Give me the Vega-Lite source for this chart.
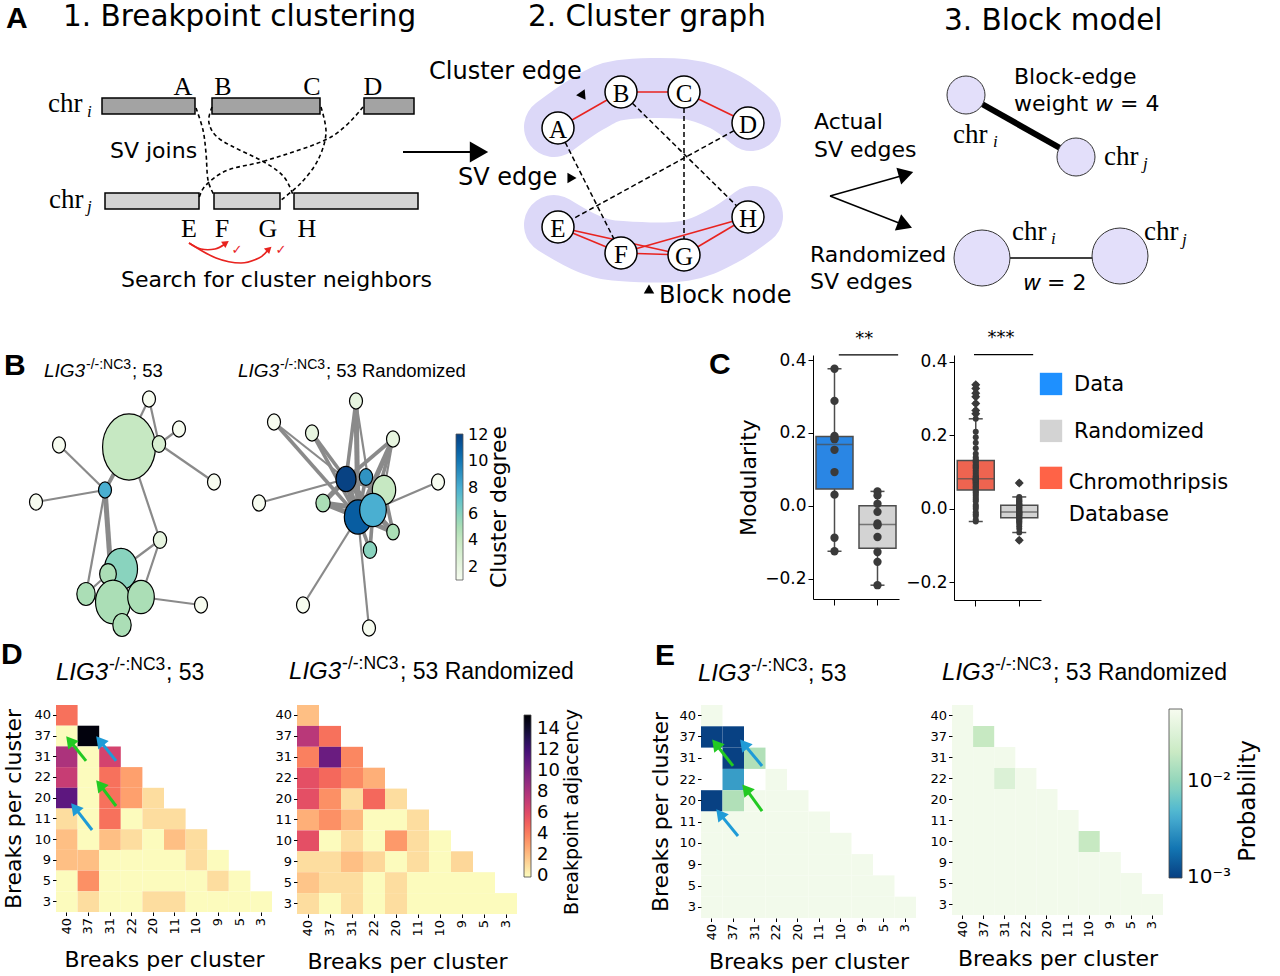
{
"$schema":"https://vega.github.io/schema/vega-lite/v6.json",
"background":"white",
"padding":0,
"spacing":0,
"config":{"font":"DejaVu Sans","view":{"stroke":null},"axis":{"grid":false,"labelFont":"DejaVu Sans","titleFont":"DejaVu Sans","titleFontWeight":"normal","labelColor":"#000","titleColor":"#000","tickColor":"#000","domainColor":"#000"},"legend":{"labelFont":"DejaVu Sans","labelColor":"#000"}},
"resolve":{"scale":{"color":"independent","size":"independent","strokeWidth":"independent","fill":"independent","stroke":"independent"},"legend":{"color":"independent","size":"independent","strokeWidth":"independent","fill":"independent","stroke":"independent"}},
"datasets":{
"pa_blob":[{"id":"t","o":0,"x":553,"y":127},{"id":"t","o":1,"x":588,"y":103},{"id":"t","o":2,"x":620,"y":90},{"id":"t","o":3,"x":683,"y":89},{"id":"t","o":4,"x":722,"y":101},{"id":"t","o":5,"x":750,"y":121},{"id":"b","o":0,"x":553,"y":225},{"id":"b","o":1,"x":588,"y":244},{"id":"b","o":2,"x":620,"y":251},{"id":"b","o":3,"x":683,"y":251},{"id":"b","o":4,"x":722,"y":236},{"id":"b","o":5,"x":752,"y":216}],
"pa_bars":[{"k":"dark","x1":101,"x2":194,"y1":98,"y2":114},{"k":"dark","x1":211,"x2":319,"y1":98,"y2":114},{"k":"dark","x1":363,"x2":413,"y1":98,"y2":114},{"k":"light","x1":104,"x2":198,"y1":193,"y2":209},{"k":"light","x1":213,"x2":279,"y1":193,"y2":209},{"k":"light","x1":293,"x2":417,"y1":193,"y2":209}],
"pa_curves":[{"id":"AF","o":0,"x":195,"y":108},{"id":"AF","o":1,"x":202,"y":130},{"id":"AF","o":2,"x":205,"y":153},{"id":"AF","o":3,"x":207,"y":180},{"id":"AF","o":4,"x":213,"y":195},{"id":"BH","o":0,"x":211,"y":107},{"id":"BH","o":1,"x":208,"y":123},{"id":"BH","o":2,"x":220,"y":140},{"id":"BH","o":3,"x":263,"y":162},{"id":"BH","o":4,"x":283,"y":177},{"id":"BH","o":5,"x":292,"y":195},{"id":"CG","o":0,"x":320,"y":107},{"id":"CG","o":1,"x":325,"y":133},{"id":"CG","o":2,"x":317,"y":160},{"id":"CG","o":3,"x":300,"y":183},{"id":"CG","o":4,"x":280,"y":200},{"id":"DE","o":0,"x":362,"y":107},{"id":"DE","o":1,"x":330,"y":137},{"id":"DE","o":2,"x":267,"y":160},{"id":"DE","o":3,"x":227,"y":170},{"id":"DE","o":4,"x":205,"y":185},{"id":"DE","o":5,"x":198,"y":198}],
"pa_red":[{"id":"EF","o":0,"x":188,"y":243},{"id":"EF","o":1,"x":200,"y":249},{"id":"EF","o":2,"x":214,"y":249},{"id":"EF","o":3,"x":224,"y":244},{"id":"EG","o":0,"x":188,"y":243},{"id":"EG","o":1,"x":215,"y":258},{"id":"EG","o":2,"x":240,"y":263},{"id":"EG","o":3,"x":258,"y":258},{"id":"EG","o":4,"x":267,"y":250}],
"pa_nodes":[{"id":"A","x":557,"y":128},{"id":"B","x":620,"y":92},{"id":"C","x":683,"y":92},{"id":"D","x":747,"y":123},{"id":"E","x":557,"y":227},{"id":"F","x":620,"y":253},{"id":"G","x":683,"y":255},{"id":"H","x":747,"y":217}],
"pa_edges":[{"s":"A","t":"B","k":"r"},{"s":"B","t":"C","k":"r"},{"s":"C","t":"D","k":"r"},{"s":"E","t":"F","k":"r"},{"s":"F","t":"G","k":"r"},{"s":"G","t":"H","k":"r"},{"s":"E","t":"G","k":"r"},{"s":"F","t":"H","k":"r"},{"s":"A","t":"F","k":"d"},{"s":"B","t":"H","k":"d"},{"s":"C","t":"G","k":"d"},{"s":"D","t":"E","k":"d"}],
"pa_lines":[{"k":"big","x":402,"y":152,"x2":470,"y2":152},{"k":"p3","x":829,"y":196,"x2":900,"y2":176},{"k":"p3","x":829,"y":196,"x2":898,"y2":223}],
"pa_heads":[{"k":"big","x":478,"y":152,"ang":90},{"k":"sm","x":582,"y":96,"ang":145},{"k":"sm","x":571,"y":178,"ang":90},{"k":"sm","x":648,"y":289,"ang":0},{"k":"p3","x":905,"y":174,"ang":74},{"k":"p3","x":904,"y":225,"ang":111},{"k":"red","x":225,"y":243,"ang":56},{"k":"red","x":268,"y":249,"ang":47}],
"pa_bme":[{"k":"thick","x":965,"y":95,"x2":1075,"y2":157},{"k":"thin","x":981,"y":258,"x2":1119,"y2":258}],
"pa_bmn":[{"k":"s","x":965,"y":95},{"k":"s","x":1075,"y":157},{"k":"b","x":981,"y":258},{"k":"b","x":1119,"y":256}],
"pa_text":[{"k":"letter","x":5,"y":19,"t":"A"},{"k":"big","x":62,"y":17,"t":"1. Breakpoint clustering"},{"k":"big","x":527,"y":17,"t":"2. Cluster graph"},{"k":"big","x":943,"y":21,"t":"3. Block model"},{"k":"l22","x":109,"y":151,"t":"SV joins"},{"k":"l22","x":120,"y":280,"t":"Search  for cluster neighbors"},{"k":"l22","x":813,"y":122,"t":"Actual"},{"k":"l22","x":813,"y":150,"t":"SV edges"},{"k":"l22","x":809,"y":255,"t":"Randomized"},{"k":"l22","x":809,"y":282,"t":"SV edges"},{"k":"l22","x":1013,"y":77,"t":"Block-edge"},{"k":"l22","x":1013,"y":104,"t":"weight"},{"k":"l22","x":1119,"y":104,"t":"= 4"},{"k":"l22","x":1046,"y":283,"t":"= 2"},{"k":"ital","x":1094,"y":104,"t":"w"},{"k":"ital","x":1022,"y":283,"t":"w"},{"k":"l24","x":428,"y":72,"t":"Cluster edge"},{"k":"l24","x":457,"y":178,"t":"SV edge"},{"k":"l24","x":658,"y":296,"t":"Block node"},{"k":"serc","x":182,"y":95,"t":"A"},{"k":"serc","x":222,"y":95,"t":"B"},{"k":"serc","x":311,"y":95,"t":"C"},{"k":"serc","x":372,"y":95,"t":"D"},{"k":"serc","x":188,"y":237,"t":"E"},{"k":"serc","x":221,"y":237,"t":"F"},{"k":"serc","x":267,"y":237,"t":"G"},{"k":"serc","x":306,"y":237,"t":"H"},{"k":"nodel","x":557,"y":130,"t":"A"},{"k":"nodel","x":620,"y":94,"t":"B"},{"k":"nodel","x":683,"y":94,"t":"C"},{"k":"nodel","x":747,"y":125,"t":"D"},{"k":"nodel","x":557,"y":229,"t":"E"},{"k":"nodel","x":620,"y":255,"t":"F"},{"k":"nodel","x":683,"y":257,"t":"G"},{"k":"nodel","x":747,"y":219,"t":"H"},{"k":"chr","x":47,"y":112,"t":"chr"},{"k":"chr","x":48,"y":208,"t":"chr"},{"k":"chr","x":952,"y":143,"t":"chr"},{"k":"chr","x":1103,"y":165,"t":"chr"},{"k":"chr","x":1011,"y":240,"t":"chr"},{"k":"chr","x":1143,"y":240,"t":"chr"},{"k":"sub","x":86,"y":117,"t":"i"},{"k":"sub","x":86,"y":212,"t":"j"},{"k":"sub","x":992,"y":147,"t":"i"},{"k":"sub","x":1142,"y":169,"t":"j"},{"k":"sub","x":1050,"y":244,"t":"i"},{"k":"sub","x":1181,"y":245,"t":"j"},{"k":"check","x":236,"y":250,"t":"✓"},{"k":"check","x":280,"y":250,"t":"✓"}],
"nodesB":[{"id":"L1","x":128,"y":445,"n":43,"deg":4},{"id":"L4","x":158,"y":442,"n":2.7,"deg":3},{"id":"L2","x":148,"y":397,"n":2.6,"deg":1},{"id":"L3","x":178,"y":427,"n":2.6,"deg":1},{"id":"L5","x":58,"y":443,"n":2.6,"deg":1},{"id":"L6","x":213,"y":480,"n":2.6,"deg":1},{"id":"L7","x":104,"y":488,"n":2.6,"deg":8},{"id":"L8","x":35,"y":500,"n":2.6,"deg":1},{"id":"L9","x":159,"y":538,"n":2.7,"deg":2},{"id":"L10","x":120,"y":567,"n":16.8,"deg":6},{"id":"L11","x":107,"y":572,"n":4.3,"deg":5},{"id":"L13","x":112,"y":600,"n":18.8,"deg":5},{"id":"L12","x":85,"y":592,"n":5.2,"deg":5},{"id":"L14","x":140,"y":595,"n":10.9,"deg":5},{"id":"L15","x":121,"y":623,"n":5.2,"deg":5},{"id":"L16","x":200,"y":603,"n":2.6,"deg":1},{"id":"R1","x":355,"y":399,"n":2.6,"deg":2},{"id":"R2","x":273,"y":420,"n":2.6,"deg":1},{"id":"R3","x":311,"y":431,"n":2.6,"deg":2},{"id":"R4","x":392,"y":437,"n":2.6,"deg":2},{"id":"R5","x":437,"y":480,"n":2.6,"deg":1},{"id":"R6","x":258,"y":501,"n":2.6,"deg":1},{"id":"R15","x":302,"y":603,"n":2.6,"deg":1},{"id":"R16","x":368,"y":626,"n":2.6,"deg":1},{"id":"R13","x":392,"y":530,"n":2.4,"deg":5},{"id":"R14","x":369,"y":548,"n":2.7,"deg":6},{"id":"R10","x":322,"y":501,"n":3.1,"deg":5},{"id":"R7","x":345,"y":477,"n":6.2,"deg":12},{"id":"R8","x":365,"y":475,"n":2.7,"deg":9},{"id":"R9","x":383,"y":488,"n":8.4,"deg":4},{"id":"R12","x":357,"y":515,"n":11.5,"deg":11},{"id":"R11","x":372,"y":508,"n":10.9,"deg":8}],
"edgesB":[{"s":"L7","t":"L5","w":1},{"s":"L7","t":"L8","w":1},{"s":"L7","t":"L1","w":2},{"s":"L2","t":"L7","w":1},{"s":"L2","t":"L4","w":1},{"s":"L3","t":"L4","w":1},{"s":"L4","t":"L6","w":1},{"s":"L1","t":"L4","w":1},{"s":"L1","t":"L9","w":1},{"s":"L7","t":"L13","w":3},{"s":"L7","t":"L12","w":1},{"s":"L9","t":"L10","w":1},{"s":"L9","t":"L14","w":1},{"s":"L14","t":"L16","w":1},{"s":"L13","t":"L12","w":2},{"s":"L13","t":"L11","w":1},{"s":"L13","t":"L14","w":2},{"s":"L13","t":"L15","w":1},{"s":"L10","t":"L13","w":2},{"s":"L10","t":"L14","w":1},{"s":"L12","t":"L11","w":1},{"s":"R1","t":"R7","w":2},{"s":"R1","t":"R12","w":3},{"s":"R1","t":"R11","w":1},{"s":"R2","t":"R7","w":1},{"s":"R2","t":"R12","w":2},{"s":"R3","t":"R7","w":2},{"s":"R3","t":"R12","w":2},{"s":"R4","t":"R7","w":2},{"s":"R4","t":"R12","w":3},{"s":"R4","t":"R11","w":2},{"s":"R4","t":"R9","w":1},{"s":"R5","t":"R11","w":1},{"s":"R6","t":"R7","w":1},{"s":"R10","t":"R7","w":3},{"s":"R10","t":"R11","w":3},{"s":"R10","t":"R12","w":3},{"s":"R7","t":"R12","w":4},{"s":"R7","t":"R11","w":4},{"s":"R7","t":"R9","w":3},{"s":"R8","t":"R12","w":2},{"s":"R8","t":"R7","w":2},{"s":"R12","t":"R13","w":3},{"s":"R11","t":"R13","w":3},{"s":"R12","t":"R14","w":2},{"s":"R11","t":"R14","w":2},{"s":"R12","t":"R15","w":1},{"s":"R12","t":"R16","w":1},{"s":"R9","t":"R12","w":3},{"s":"R9","t":"R13","w":2}],
"textB":[{"k":"letter","x":3,"y":364,"t":"B"},{"k":"lig","x":43,"y":375,"t":"LIG3"},{"k":"sup","x":85,"y":367,"t":"-/-:NC3"},{"k":"main","x":131,"y":375,"t":"; 53"},{"k":"lig","x":237,"y":375,"t":"LIG3"},{"k":"sup","x":279,"y":367,"t":"-/-:NC3"},{"k":"main","x":325,"y":375,"t":"; 53 Randomized"},{"k":"cbar","x":498,"y":505,"t":"Cluster degree"}],
"c1":[{"g":"Data","m":0.376},{"g":"Data","m":0.288},{"g":"Data","m":0.186},{"g":"Data","m":0.192},{"g":"Data","m":0.183},{"g":"Data","m":0.154},{"g":"Data","m":0.093},{"g":"Data","m":0.031},{"g":"Data","m":-0.087},{"g":"Data","m":-0.124},{"g":"Randomized","m":0.040},{"g":"Randomized","m":0.029},{"g":"Randomized","m":0.006},{"g":"Randomized","m":-0.016},{"g":"Randomized","m":-0.048},{"g":"Randomized","m":-0.053},{"g":"Randomized","m":-0.085},{"g":"Randomized","m":-0.126},{"g":"Randomized","m":-0.153},{"g":"Randomized","m":-0.217}],
"c2":[{"g":"Chromothripsis Database","m":-0.035},{"g":"Chromothripsis Database","m":-0.03},{"g":"Chromothripsis Database","m":-0.02},{"g":"Chromothripsis Database","m":-0.015},{"g":"Chromothripsis Database","m":-0.01},{"g":"Chromothripsis Database","m":0.0},{"g":"Chromothripsis Database","m":0.005},{"g":"Chromothripsis Database","m":0.01},{"g":"Chromothripsis Database","m":0.02},{"g":"Chromothripsis Database","m":0.025},{"g":"Chromothripsis Database","m":0.03},{"g":"Chromothripsis Database","m":0.035},{"g":"Chromothripsis Database","m":0.04},{"g":"Chromothripsis Database","m":0.045},{"g":"Chromothripsis Database","m":0.048},{"g":"Chromothripsis Database","m":0.052},{"g":"Chromothripsis Database","m":0.055},{"g":"Chromothripsis Database","m":0.058},{"g":"Chromothripsis Database","m":0.06},{"g":"Chromothripsis Database","m":0.062},{"g":"Chromothripsis Database","m":0.065},{"g":"Chromothripsis Database","m":0.068},{"g":"Chromothripsis Database","m":0.07},{"g":"Chromothripsis Database","m":0.072},{"g":"Chromothripsis Database","m":0.075},{"g":"Chromothripsis Database","m":0.077},{"g":"Chromothripsis Database","m":0.078},{"g":"Chromothripsis Database","m":0.079},{"g":"Chromothripsis Database","m":0.08},{"g":"Chromothripsis Database","m":0.081},{"g":"Chromothripsis Database","m":0.082},{"g":"Chromothripsis Database","m":0.085},{"g":"Chromothripsis Database","m":0.088},{"g":"Chromothripsis Database","m":0.09},{"g":"Chromothripsis Database","m":0.095},{"g":"Chromothripsis Database","m":0.1},{"g":"Chromothripsis Database","m":0.105},{"g":"Chromothripsis Database","m":0.11},{"g":"Chromothripsis Database","m":0.112},{"g":"Chromothripsis Database","m":0.115},{"g":"Chromothripsis Database","m":0.118},{"g":"Chromothripsis Database","m":0.12},{"g":"Chromothripsis Database","m":0.125},{"g":"Chromothripsis Database","m":0.128},{"g":"Chromothripsis Database","m":0.13},{"g":"Chromothripsis Database","m":0.135},{"g":"Chromothripsis Database","m":0.14},{"g":"Chromothripsis Database","m":0.15},{"g":"Chromothripsis Database","m":0.165},{"g":"Chromothripsis Database","m":0.18},{"g":"Chromothripsis Database","m":0.195},{"g":"Chromothripsis Database","m":0.21},{"g":"Chromothripsis Database","m":0.245},{"g":"Chromothripsis Database","m":0.259},{"g":"Chromothripsis Database","m":0.268},{"g":"Chromothripsis Database","m":0.287},{"g":"Chromothripsis Database","m":0.305},{"g":"Chromothripsis Database","m":0.315},{"g":"Chromothripsis Database","m":0.328},{"g":"Chromothripsis Database","m":0.338},{"g":"Randomized","m":-0.086},{"g":"Randomized","m":-0.065},{"g":"Randomized","m":-0.055},{"g":"Randomized","m":-0.048},{"g":"Randomized","m":-0.042},{"g":"Randomized","m":-0.038},{"g":"Randomized","m":-0.034},{"g":"Randomized","m":-0.031},{"g":"Randomized","m":-0.028},{"g":"Randomized","m":-0.026},{"g":"Randomized","m":-0.024},{"g":"Randomized","m":-0.022},{"g":"Randomized","m":-0.02},{"g":"Randomized","m":-0.018},{"g":"Randomized","m":-0.016},{"g":"Randomized","m":-0.015},{"g":"Randomized","m":-0.013},{"g":"Randomized","m":-0.012},{"g":"Randomized","m":-0.011},{"g":"Randomized","m":-0.01},{"g":"Randomized","m":-0.008},{"g":"Randomized","m":-0.006},{"g":"Randomized","m":-0.004},{"g":"Randomized","m":-0.002},{"g":"Randomized","m":0.0},{"g":"Randomized","m":0.002},{"g":"Randomized","m":0.004},{"g":"Randomized","m":0.006},{"g":"Randomized","m":0.008},{"g":"Randomized","m":0.009},{"g":"Randomized","m":0.011},{"g":"Randomized","m":0.013},{"g":"Randomized","m":0.015},{"g":"Randomized","m":0.018},{"g":"Randomized","m":0.02},{"g":"Randomized","m":0.022},{"g":"Randomized","m":0.025},{"g":"Randomized","m":0.028},{"g":"Randomized","m":0.032},{"g":"Randomized","m":0.07}],
"D1":[{"r":"40","c":"40","v":4.5},{"r":"37","c":"40","v":0},{"r":"37","c":"37","v":15},{"r":"31","c":"40","v":8},{"r":"31","c":"37","v":0},{"r":"31","c":"31","v":6.5},{"r":"22","c":"40","v":7},{"r":"22","c":"37","v":0},{"r":"22","c":"31","v":4.5},{"r":"22","c":"22","v":3},{"r":"20","c":"40","v":11},{"r":"20","c":"37","v":0},{"r":"20","c":"31","v":4.5},{"r":"20","c":"22","v":3},{"r":"20","c":"20","v":1},{"r":"11","c":"40","v":1},{"r":"11","c":"37","v":0},{"r":"11","c":"31","v":4.5},{"r":"11","c":"22","v":0},{"r":"11","c":"20","v":1},{"r":"11","c":"11","v":1},{"r":"10","c":"40","v":2},{"r":"10","c":"37","v":0},{"r":"10","c":"31","v":2},{"r":"10","c":"22","v":1},{"r":"10","c":"20","v":0},{"r":"10","c":"11","v":2},{"r":"10","c":"10","v":1},{"r":"9","c":"40","v":2},{"r":"9","c":"37","v":2},{"r":"9","c":"31","v":0},{"r":"9","c":"22","v":0},{"r":"9","c":"20","v":0},{"r":"9","c":"11","v":0},{"r":"9","c":"10","v":1},{"r":"9","c":"9","v":0},{"r":"5","c":"40","v":0},{"r":"5","c":"37","v":3.5},{"r":"5","c":"31","v":0},{"r":"5","c":"22","v":0},{"r":"5","c":"20","v":0},{"r":"5","c":"11","v":0},{"r":"5","c":"10","v":0},{"r":"5","c":"9","v":1},{"r":"5","c":"5","v":0},{"r":"3","c":"40","v":0},{"r":"3","c":"37","v":1},{"r":"3","c":"31","v":0},{"r":"3","c":"22","v":0},{"r":"3","c":"20","v":1},{"r":"3","c":"11","v":1},{"r":"3","c":"10","v":0},{"r":"3","c":"9","v":0},{"r":"3","c":"5","v":0},{"r":"3","c":"3","v":0}],
"D2":[{"r":"40","c":"40","v":2},{"r":"37","c":"40","v":7.5},{"r":"37","c":"37","v":4.5},{"r":"31","c":"40","v":4},{"r":"31","c":"37","v":10.5},{"r":"31","c":"31","v":3.8},{"r":"22","c":"40","v":5.8},{"r":"22","c":"37","v":4.8},{"r":"22","c":"31","v":3.7},{"r":"22","c":"22","v":2.5},{"r":"20","c":"40","v":5.8},{"r":"20","c":"37","v":3.5},{"r":"20","c":"31","v":1},{"r":"20","c":"22","v":4.8},{"r":"20","c":"20","v":1},{"r":"11","c":"40","v":2.5},{"r":"11","c":"37","v":3.5},{"r":"11","c":"31","v":2.2},{"r":"11","c":"22","v":0},{"r":"11","c":"20","v":0},{"r":"11","c":"11","v":1},{"r":"10","c":"40","v":5.8},{"r":"10","c":"37","v":0},{"r":"10","c":"31","v":1},{"r":"10","c":"22","v":0},{"r":"10","c":"20","v":3.2},{"r":"10","c":"11","v":1},{"r":"10","c":"10","v":0},{"r":"9","c":"40","v":1},{"r":"9","c":"37","v":1},{"r":"9","c":"31","v":2},{"r":"9","c":"22","v":1.2},{"r":"9","c":"20","v":0},{"r":"9","c":"11","v":1},{"r":"9","c":"10","v":0},{"r":"9","c":"9","v":1.2},{"r":"5","c":"40","v":1.8},{"r":"5","c":"37","v":1},{"r":"5","c":"31","v":1},{"r":"5","c":"22","v":0},{"r":"5","c":"20","v":1},{"r":"5","c":"11","v":0},{"r":"5","c":"10","v":0},{"r":"5","c":"9","v":0},{"r":"5","c":"5","v":0},{"r":"3","c":"40","v":1},{"r":"3","c":"37","v":0},{"r":"3","c":"31","v":1},{"r":"3","c":"22","v":0},{"r":"3","c":"20","v":1},{"r":"3","c":"11","v":0},{"r":"3","c":"10","v":0},{"r":"3","c":"9","v":0},{"r":"3","c":"5","v":0},{"r":"3","c":"3","v":0}],
"E1":[{"r":"40","c":"40","v":0.05},{"r":"37","c":"40","v":0.001},{"r":"37","c":"37","v":0.001},{"r":"31","c":"37","v":0.001},{"r":"31","c":"31","v":0.014},{"r":"22","c":"37","v":0.0034},{"r":"22","c":"22","v":0.05},{"r":"20","c":"40","v":0.001},{"r":"20","c":"37","v":0.014},{"r":"20","c":"31","v":0.05},{"r":"20","c":"22","v":0.05},{"r":"20","c":"20","v":0.05},{"r":"11","c":"40","v":0.05},{"r":"11","c":"37","v":0.05},{"r":"11","c":"31","v":0.05},{"r":"11","c":"22","v":0.05},{"r":"11","c":"20","v":0.05},{"r":"11","c":"11","v":0.05},{"r":"10","c":"40","v":0.05},{"r":"10","c":"37","v":0.05},{"r":"10","c":"31","v":0.05},{"r":"10","c":"22","v":0.05},{"r":"10","c":"20","v":0.05},{"r":"10","c":"11","v":0.05},{"r":"10","c":"10","v":0.05},{"r":"9","c":"40","v":0.05},{"r":"9","c":"37","v":0.05},{"r":"9","c":"31","v":0.05},{"r":"9","c":"22","v":0.05},{"r":"9","c":"20","v":0.05},{"r":"9","c":"11","v":0.05},{"r":"9","c":"10","v":0.05},{"r":"9","c":"9","v":0.05},{"r":"5","c":"40","v":0.05},{"r":"5","c":"37","v":0.05},{"r":"5","c":"31","v":0.05},{"r":"5","c":"22","v":0.05},{"r":"5","c":"20","v":0.05},{"r":"5","c":"11","v":0.05},{"r":"5","c":"10","v":0.05},{"r":"5","c":"9","v":0.05},{"r":"5","c":"5","v":0.05},{"r":"3","c":"40","v":0.05},{"r":"3","c":"37","v":0.05},{"r":"3","c":"31","v":0.05},{"r":"3","c":"22","v":0.05},{"r":"3","c":"20","v":0.05},{"r":"3","c":"11","v":0.05},{"r":"3","c":"10","v":0.05},{"r":"3","c":"9","v":0.05},{"r":"3","c":"5","v":0.05},{"r":"3","c":"3","v":0.05}],
"E2":[{"r":"40","c":"40","v":0.05},{"r":"37","c":"40","v":0.05},{"r":"37","c":"37","v":0.019},{"r":"31","c":"40","v":0.05},{"r":"31","c":"37","v":0.05},{"r":"31","c":"31","v":0.05},{"r":"22","c":"40","v":0.05},{"r":"22","c":"37","v":0.05},{"r":"22","c":"31","v":0.03},{"r":"22","c":"22","v":0.05},{"r":"20","c":"40","v":0.05},{"r":"20","c":"37","v":0.05},{"r":"20","c":"31","v":0.05},{"r":"20","c":"22","v":0.05},{"r":"20","c":"20","v":0.05},{"r":"11","c":"40","v":0.05},{"r":"11","c":"37","v":0.05},{"r":"11","c":"31","v":0.05},{"r":"11","c":"22","v":0.05},{"r":"11","c":"20","v":0.05},{"r":"11","c":"11","v":0.05},{"r":"10","c":"40","v":0.05},{"r":"10","c":"37","v":0.05},{"r":"10","c":"31","v":0.05},{"r":"10","c":"22","v":0.05},{"r":"10","c":"20","v":0.05},{"r":"10","c":"11","v":0.05},{"r":"10","c":"10","v":0.019},{"r":"9","c":"40","v":0.05},{"r":"9","c":"37","v":0.05},{"r":"9","c":"31","v":0.05},{"r":"9","c":"22","v":0.05},{"r":"9","c":"20","v":0.05},{"r":"9","c":"11","v":0.05},{"r":"9","c":"10","v":0.05},{"r":"9","c":"9","v":0.05},{"r":"5","c":"40","v":0.05},{"r":"5","c":"37","v":0.05},{"r":"5","c":"31","v":0.05},{"r":"5","c":"22","v":0.05},{"r":"5","c":"20","v":0.05},{"r":"5","c":"11","v":0.05},{"r":"5","c":"10","v":0.05},{"r":"5","c":"9","v":0.05},{"r":"5","c":"5","v":0.05},{"r":"3","c":"40","v":0.05},{"r":"3","c":"37","v":0.05},{"r":"3","c":"31","v":0.05},{"r":"3","c":"22","v":0.05},{"r":"3","c":"20","v":0.05},{"r":"3","c":"11","v":0.05},{"r":"3","c":"10","v":0.05},{"r":"3","c":"9","v":0.05},{"r":"3","c":"5","v":0.05},{"r":"3","c":"3","v":0.05}],
"arrD":[{"c":"g","tx":1.39,"ty":2.70,"hx":0.64,"hy":1.73},{"c":"b","tx":2.78,"ty":2.70,"hx":2.03,"hy":1.73},{"c":"g","tx":2.78,"ty":4.88,"hx":2.03,"hy":3.85},{"c":"b","tx":1.67,"ty":6.04,"hx":0.87,"hy":4.96}],
"arrE":[{"c":"g","tx":1.49,"ty":2.86,"hx":0.69,"hy":1.83},{"c":"b","tx":2.84,"ty":2.86,"hx":1.99,"hy":1.83},{"c":"g","tx":2.84,"ty":4.98,"hx":2.09,"hy":3.94},{"c":"b","tx":1.72,"ty":6.15,"hx":0.88,"hy":5.11}]
},
"vconcat":[
{
"width":1225,"height":328,
"encoding":{"x":{"field":"x","type":"quantitative","scale":{"domain":[55,1280],"nice":false,"zero":false},"axis":null},"y":{"field":"y","type":"quantitative","scale":{"domain":[0,328],"nice":false,"zero":false,"reverse":true},"axis":null}},
"layer":[
{"data":{"name":"pa_blob"},"mark":{"type":"line","interpolate":"cardinal","strokeWidth":60,"strokeCap":"round","strokeJoin":"round","color":"#dcd8f8"},"encoding":{"detail":{"field":"id"},"order":{"field":"o"}}},
{"data":{"name":"pa_bars"},"mark":{"type":"rect","stroke":"#000","strokeWidth":1.5},"encoding":{"x":{"field":"x1","type":"quantitative","scale":{"domain":[55,1280],"nice":false,"zero":false},"axis":null},"x2":{"field":"x2"},"y":{"field":"y1","type":"quantitative","scale":{"domain":[0,328],"nice":false,"zero":false,"reverse":true},"axis":null},"y2":{"field":"y2"},"color":{"field":"k","type":"nominal","scale":{"domain":["dark","light"],"range":["#a3a3a3","#d4d4d4"]},"legend":null}}},
{"data":{"name":"pa_curves"},"mark":{"type":"line","interpolate":"cardinal","strokeDash":[4,3],"strokeWidth":1.6,"color":"#000"},"encoding":{"detail":{"field":"id"},"order":{"field":"o"}}},
{"data":{"name":"pa_red"},"mark":{"type":"line","interpolate":"cardinal","strokeWidth":1.6,"color":"#e8231f"},"encoding":{"detail":{"field":"id"},"order":{"field":"o"}}},
{"data":{"name":"pa_edges"},"transform":[{"lookup":"s","from":{"data":{"name":"pa_nodes"},"key":"id","fields":["x","y"]},"as":["sx","sy"]},{"lookup":"t","from":{"data":{"name":"pa_nodes"},"key":"id","fields":["x","y"]},"as":["tx","ty"]},{"filter":"datum.k=='r'"}],"mark":{"type":"rule","color":"#e8231f","strokeWidth":1.6},"encoding":{"x":{"field":"sx","type":"quantitative","scale":{"domain":[55,1280],"nice":false,"zero":false},"axis":null},"y":{"field":"sy","type":"quantitative","scale":{"domain":[0,328],"nice":false,"zero":false,"reverse":true},"axis":null},"x2":{"field":"tx"},"y2":{"field":"ty"}}},
{"data":{"name":"pa_edges"},"transform":[{"lookup":"s","from":{"data":{"name":"pa_nodes"},"key":"id","fields":["x","y"]},"as":["sx","sy"]},{"lookup":"t","from":{"data":{"name":"pa_nodes"},"key":"id","fields":["x","y"]},"as":["tx","ty"]},{"filter":"datum.k=='d'"}],"mark":{"type":"rule","color":"#000","strokeWidth":1.5,"strokeDash":[5,3]},"encoding":{"x":{"field":"sx","type":"quantitative","scale":{"domain":[55,1280],"nice":false,"zero":false},"axis":null},"y":{"field":"sy","type":"quantitative","scale":{"domain":[0,328],"nice":false,"zero":false,"reverse":true},"axis":null},"x2":{"field":"tx"},"y2":{"field":"ty"}}},
{"data":{"name":"pa_nodes"},"mark":{"type":"point","shape":"circle","filled":true,"fill":"#fff","stroke":"#000","strokeWidth":1.5,"size":1024,"opacity":1}},
{"data":{"name":"pa_lines"},"transform":[{"filter":"datum.k=='big'"}],"mark":{"type":"rule","color":"#000","strokeWidth":2},"encoding":{"x2":{"field":"x2"},"y2":{"field":"y2"}}},
{"data":{"name":"pa_lines"},"transform":[{"filter":"datum.k=='p3'"}],"mark":{"type":"rule","color":"#000","strokeWidth":1.5},"encoding":{"x2":{"field":"x2"},"y2":{"field":"y2"}}},
{"data":{"name":"pa_bme"},"transform":[{"filter":"datum.k=='thick'"}],"mark":{"type":"rule","color":"#000","strokeWidth":6},"encoding":{"x2":{"field":"x2"},"y2":{"field":"y2"}}},
{"data":{"name":"pa_bme"},"transform":[{"filter":"datum.k=='thin'"}],"mark":{"type":"rule","color":"#000","strokeWidth":1.5},"encoding":{"x2":{"field":"x2"},"y2":{"field":"y2"}}},
{"data":{"name":"pa_bmn"},"transform":[{"filter":"datum.k=='s'"}],"mark":{"type":"point","shape":"circle","filled":true,"fill":"#e3dffa","stroke":"#333","strokeWidth":1,"size":1444,"opacity":1}},
{"data":{"name":"pa_bmn"},"transform":[{"filter":"datum.k=='b'"}],"mark":{"type":"point","shape":"circle","filled":true,"fill":"#e3dffa","stroke":"#333","strokeWidth":1,"size":3136,"opacity":1}},
{"data":{"name":"pa_heads"},"transform":[{"filter":"datum.k=='big'"}],"mark":{"type":"point","shape":"triangle-up","filled":true,"color":"#000","size":450,"opacity":1},"encoding":{"angle":{"field":"ang","type":"quantitative","scale":null}}},
{"data":{"name":"pa_heads"},"transform":[{"filter":"datum.k=='sm'"}],"mark":{"type":"point","shape":"triangle-up","filled":true,"color":"#000","size":110,"opacity":1},"encoding":{"angle":{"field":"ang","type":"quantitative","scale":null}}},
{"data":{"name":"pa_heads"},"transform":[{"filter":"datum.k=='p3'"}],"mark":{"type":"point","shape":"triangle-up","filled":true,"color":"#000","size":300,"opacity":1},"encoding":{"angle":{"field":"ang","type":"quantitative","scale":null}}},
{"data":{"name":"pa_heads"},"transform":[{"filter":"datum.k=='red'"}],"mark":{"type":"point","shape":"triangle-up","filled":true,"color":"#e8231f","size":60,"opacity":1},"encoding":{"angle":{"field":"ang","type":"quantitative","scale":null}}},
{"data":{"name":"pa_text"},"transform":[{"filter":"datum.k=='letter'"}],"mark":{"type":"text","font":"Liberation Sans","fontWeight":"bold","fontSize":30,"align":"left","baseline":"middle"},"encoding":{"text":{"field":"t"}}},
{"data":{"name":"pa_text"},"transform":[{"filter":"datum.k=='big'"}],"mark":{"type":"text","font":"DejaVu Sans","fontSize":29.5,"align":"left","baseline":"middle"},"encoding":{"text":{"field":"t"}}},
{"data":{"name":"pa_text"},"transform":[{"filter":"datum.k=='l22'"}],"mark":{"type":"text","font":"DejaVu Sans","fontSize":22,"align":"left","baseline":"middle"},"encoding":{"text":{"field":"t"}}},
{"data":{"name":"pa_text"},"transform":[{"filter":"datum.k=='ital'"}],"mark":{"type":"text","font":"DejaVu Sans","fontStyle":"italic","fontSize":22,"align":"left","baseline":"middle"},"encoding":{"text":{"field":"t"}}},
{"data":{"name":"pa_text"},"transform":[{"filter":"datum.k=='l24'"}],"mark":{"type":"text","font":"DejaVu Sans","fontSize":24,"align":"left","baseline":"middle"},"encoding":{"text":{"field":"t"}}},
{"data":{"name":"pa_text"},"transform":[{"filter":"datum.k=='serc'"}],"mark":{"type":"text","font":"Liberation Serif","fontSize":26,"align":"center","baseline":"alphabetic"},"encoding":{"text":{"field":"t"}}},
{"data":{"name":"pa_text"},"transform":[{"filter":"datum.k=='nodel'"}],"mark":{"type":"text","font":"Liberation Serif","fontSize":25,"align":"center","baseline":"middle"},"encoding":{"text":{"field":"t"}}},
{"data":{"name":"pa_text"},"transform":[{"filter":"datum.k=='chr'"}],"mark":{"type":"text","font":"Liberation Serif","fontSize":27,"align":"left","baseline":"alphabetic"},"encoding":{"text":{"field":"t"}}},
{"data":{"name":"pa_text"},"transform":[{"filter":"datum.k=='sub'"}],"mark":{"type":"text","font":"Liberation Serif","fontStyle":"italic","fontSize":17,"align":"left","baseline":"alphabetic"},"encoding":{"text":{"field":"t"}}},
{"data":{"name":"pa_text"},"transform":[{"filter":"datum.k=='check'"}],"mark":{"type":"text","font":"DejaVu Sans","fontSize":13,"color":"#e8231f","align":"center","baseline":"middle"},"encoding":{"text":{"field":"t"}}}
]
},
{
"hconcat":[
{
"width":702,"height":284,
"encoding":{"x":{"field":"x","type":"quantitative","scale":{"domain":[55,757],"nice":false,"zero":false},"axis":null},"y":{"field":"y","type":"quantitative","scale":{"domain":[353,637],"nice":false,"zero":false,"reverse":true},"axis":null}},
"layer":[
{"data":{"name":"edgesB"},"transform":[{"lookup":"s","from":{"data":{"name":"nodesB"},"key":"id","fields":["x","y"]},"as":["sx","sy"]},{"lookup":"t","from":{"data":{"name":"nodesB"},"key":"id","fields":["x","y"]},"as":["tx","ty"]}],"mark":{"type":"rule","color":"#8a8a8a"},"encoding":{"x":{"field":"sx","type":"quantitative","scale":{"domain":[55,757],"nice":false,"zero":false},"axis":null},"y":{"field":"sy","type":"quantitative","scale":{"domain":[353,637],"nice":false,"zero":false,"reverse":true},"axis":null},"x2":{"field":"tx"},"y2":{"field":"ty"},"strokeWidth":{"field":"w","type":"quantitative","scale":{"domain":[1,4],"range":[2.2,6.5]},"legend":null}}},
{"data":{"name":"nodesB"},"mark":{"type":"point","shape":"M-1,0A1,1.25,0,1,1,1,0A1,1.25,0,1,1,-1,0Z","filled":true,"stroke":"#000","strokeWidth":1.2,"opacity":1},"encoding":{"size":{"field":"n","type":"quantitative","scale":{"type":"linear","domain":[0,40],"range":[0,2600]},"legend":null},"color":{"field":"deg","type":"quantitative","scale":{"domain":[1,2.375,3.75,5.125,6.5,7.875,9.25,10.625,12.08],"range":["#f7fcf0","#e0f3db","#ccebc5","#a8ddb5","#7bccc4","#4eb3d3","#2b8cbe","#0868ac","#084081"]},"legend":{"orient":"none","legendX":400,"legendY":79,"direction":"vertical","gradientLength":146,"gradientThickness":7,"title":null,"values":[2,4,6,8,10,12],"labelFontSize":16,"labelOffset":5,"labelOverlap":false,"gradientStrokeColor":"#555","gradientStrokeWidth":0.8,"padding":0}}}},
{"data":{"name":"textB"},"transform":[{"filter":"datum.k=='letter'"}],"mark":{"type":"text","font":"Liberation Sans","fontWeight":"bold","fontSize":30,"align":"left","baseline":"middle"},"encoding":{"text":{"field":"t"}}},
{"data":{"name":"textB"},"transform":[{"filter":"datum.k=='lig'"}],"mark":{"type":"text","font":"Liberation Sans","fontStyle":"italic","fontSize":19,"align":"left","baseline":"alphabetic"},"encoding":{"text":{"field":"t"}}},
{"data":{"name":"textB"},"transform":[{"filter":"datum.k=='sup'"}],"mark":{"type":"text","font":"Liberation Sans","fontSize":14,"align":"left","baseline":"alphabetic"},"encoding":{"text":{"field":"t"}}},
{"data":{"name":"textB"},"transform":[{"filter":"datum.k=='main'"}],"mark":{"type":"text","font":"Liberation Sans","fontSize":18.5,"align":"left","baseline":"alphabetic"},"encoding":{"text":{"field":"t"}}},
{"data":{"name":"textB"},"transform":[{"filter":"datum.k=='cbar'"}],"mark":{"type":"text","font":"DejaVu Sans","fontSize":22,"align":"center","baseline":"middle","angle":270},"encoding":{"text":{"field":"t"}}}
]
},
{
"width":86,"height":244,
"resolve":{"scale":{"x":"independent"}},
"layer":[
{"data":{"name":"c1"},"layer":[
{"mark":{"type":"boxplot","extent":1.5,"size":37,"outliers":false,"box":{"stroke":"#4d4d4d","strokeWidth":1.5},"median":{"color":"#4d4d4d","thickness":1.5},"rule":{"color":"#4d4d4d","strokeWidth":1.5},"ticks":{"color":"#4d4d4d","size":14,"thickness":1.5}},
"encoding":{"x":{"field":"g","type":"nominal","scale":{"domain":["Data","Randomized"],"paddingInner":0,"paddingOuter":0},"axis":{"labels":false,"title":null,"ticks":true,"tickSize":6,"domain":true}},"y":{"field":"m","type":"quantitative","scale":{"domain":[-0.2548,0.4137],"nice":false,"zero":false},"axis":{"values":[-0.2,0,0.2,0.4],"format":".1f","title":"Modularity","titleFontSize":22,"labelFontSize":17,"tickSize":5,"titlePadding":4}},"color":{"field":"g","type":"nominal","scale":{"domain":["Data","Randomized","Chromothripsis Database"],"range":["#2a86e4","#d3d3d3","#ee6450"]},"legend":null}}},
{"mark":{"type":"point","filled":true,"color":"#3a3a3a","size":69,"opacity":1},"encoding":{"x":{"field":"g","type":"nominal","scale":{"domain":["Data","Randomized"],"paddingInner":0,"paddingOuter":0}},"y":{"field":"m","type":"quantitative","scale":{"domain":[-0.2548,0.4137],"nice":false,"zero":false},"title":"Modularity"}}}
]},
{"data":{"values":[{"k":"star","x":1.19,"m":0.458,"t":"**"},{"k":"line","x":0.6,"x2":1.98,"m":0.414},{"k":"letter","x":-2.42,"m":0.386,"t":"C"}]},
"encoding":{"x":{"field":"x","type":"quantitative","scale":{"domain":[0,2],"nice":false,"zero":false},"axis":null},"y":{"field":"m","type":"quantitative","scale":{"domain":[-0.2548,0.4137],"nice":false,"zero":false},"title":"Modularity"}},
"layer":[
{"transform":[{"filter":"datum.k=='line'"}],"mark":{"type":"rule","color":"#000","strokeWidth":1.3},"encoding":{"x2":{"field":"x2"}}},
{"transform":[{"filter":"datum.k=='star'"}],"mark":{"type":"text","fontSize":18,"align":"center","baseline":"middle"},"encoding":{"text":{"field":"t"}}},
{"transform":[{"filter":"datum.k=='letter'"}],"mark":{"type":"text","font":"Liberation Sans","fontWeight":"bold","fontSize":30,"align":"left","baseline":"middle"},"encoding":{"text":{"field":"t"}}}
]}
]
},
{
"width":87,"height":245,
"resolve":{"scale":{"x":"independent"}},
"layer":[
{"data":{"name":"c2"},"layer":[
{"mark":{"type":"boxplot","extent":1.5,"size":37,"outliers":false,"box":{"stroke":"#4d4d4d","strokeWidth":1.5},"median":{"color":"#4d4d4d","thickness":1.5},"rule":{"color":"#4d4d4d","strokeWidth":1.5},"ticks":{"color":"#4d4d4d","size":14,"thickness":1.5}},
"encoding":{"x":{"field":"g","type":"nominal","scale":{"domain":["Chromothripsis Database","Randomized"],"paddingInner":0,"paddingOuter":0},"axis":{"labels":false,"title":null,"ticks":true,"tickSize":6,"domain":true}},"y":{"field":"m","type":"quantitative","scale":{"domain":[-0.249,0.419],"nice":false,"zero":false},"axis":{"values":[-0.2,0,0.2,0.4],"format":".1f","title":null,"labelFontSize":17,"tickSize":5}},"color":{"field":"g","type":"nominal","scale":{"domain":["Data","Randomized","Chromothripsis Database"],"range":["#2a86e4","#d3d3d3","#ee6450"]},"legend":null}}},
{"mark":{"type":"point","filled":true,"color":"#3a3a3a","size":36,"opacity":1},"encoding":{"x":{"field":"g","type":"nominal","scale":{"domain":["Chromothripsis Database","Randomized"],"paddingInner":0,"paddingOuter":0}},"y":{"field":"m","type":"quantitative","scale":{"domain":[-0.249,0.419],"nice":false,"zero":false},"title":null}}},
{"transform":[{"filter":"(datum.g=='Chromothripsis Database' && datum.m>0.25) || (datum.g=='Randomized' && (datum.m>0.06 || datum.m<-0.075))"}],"mark":{"type":"point","shape":"diamond","filled":true,"color":"#3a3a3a","size":80,"opacity":1},"encoding":{"x":{"field":"g","type":"nominal","scale":{"domain":["Chromothripsis Database","Randomized"],"paddingInner":0,"paddingOuter":0}},"y":{"field":"m","type":"quantitative","scale":{"domain":[-0.249,0.419],"nice":false,"zero":false},"title":null}}}
]},
{"data":{"values":[{"k":"star","x":1.08,"m":0.466,"t":"***"},{"k":"line","x":0.46,"x2":1.82,"m":0.42},{"k":"sq","x":2.23,"m":0.340,"g":"Data"},{"k":"sq","x":2.23,"m":0.212,"g":"Randomized"},{"k":"sq","x":2.23,"m":0.084,"g":"Chromothripsis Database"},{"k":"lab","x":2.76,"m":0.337,"t":"Data"},{"k":"lab","x":2.76,"m":0.209,"t":"Randomized"},{"k":"lab","x":2.64,"m":0.070,"t":"Chromothripsis"},{"k":"lab","x":2.64,"m":-0.017,"t":"Database"}]},
"encoding":{"x":{"field":"x","type":"quantitative","scale":{"domain":[0,2],"nice":false,"zero":false},"axis":null},"y":{"field":"m","type":"quantitative","scale":{"domain":[-0.249,0.419],"nice":false,"zero":false},"title":null}},
"layer":[
{"transform":[{"filter":"datum.k=='line'"}],"mark":{"type":"rule","color":"#000","strokeWidth":1.3},"encoding":{"x2":{"field":"x2"}}},
{"transform":[{"filter":"datum.k=='star'"}],"mark":{"type":"text","fontSize":18,"align":"center","baseline":"middle"},"encoding":{"text":{"field":"t"}}},
{"transform":[{"filter":"datum.k=='sq'"}],"mark":{"type":"point","shape":"square","filled":true,"size":500,"opacity":1},"encoding":{"fill":{"field":"g","type":"nominal","scale":{"domain":["Data","Randomized","Chromothripsis Database"],"range":["#1e90ff","#d3d3d3","#ff6347"]},"legend":null}}},
{"transform":[{"filter":"datum.k=='lab'"}],"mark":{"type":"text","font":"DejaVu Sans","fontSize":21,"align":"left","baseline":"middle"},"encoding":{"text":{"field":"t"}}}
]}
]
}
],
"spacing":55,"bounds":"flush",
"resolve":{"scale":{"color":"independent","size":"independent","strokeWidth":"independent","fill":"independent","stroke":"independent"},"legend":{"color":"independent","size":"independent","strokeWidth":"independent","fill":"independent","stroke":"independent"}}
},
{
"hconcat":[
{
"hconcat":[
{
"width":216,"height":207,
"resolve":{"scale":{"x":"independent","y":"independent"}},
"layer":[
{"data":{"name":"D1"},"mark":{"type":"rect"},"encoding":{"x":{"field":"c","type":"ordinal","scale":{"domain":["40","37","31","22","20","11","10","9","5","3"],"paddingInner":0,"paddingOuter":0},"axis":{"title":"Breaks per cluster","labelAngle":270,"labelFontSize":13,"tickSize":3.5,"domain":false,"titleFontSize":22,"titlePadding":15,"labelPadding":2}},"y":{"field":"r","type":"ordinal","scale":{"domain":["40","37","31","22","20","11","10","9","5","3"],"paddingInner":0,"paddingOuter":0},"axis":{"title":"Breaks per cluster","labelFontSize":13,"tickSize":3.5,"domain":false,"titleFontSize":22,"titlePadding":8,"labelPadding":2}},"color":{"field":"v","type":"quantitative","scale":{"scheme":"magma","reverse":true,"domain":[-0.05,15.3]},"legend":null}}},
{"data":{"values":[{"k":"letter","x":-2.55,"y":-2.42,"t":"D"},{"k":"lig","x":0,"y":-1.21,"t":"LIG3"},{"k":"sup","x":2.45,"y":-1.69,"t":"-/-:NC3"},{"k":"main","x":5.09,"y":-1.21,"t":"; 53"}]},
"encoding":{"x":{"field":"x","type":"quantitative","scale":{"domain":[0,10],"nice":false,"zero":false},"axis":null},"y":{"field":"y","type":"quantitative","scale":{"domain":[0,10],"nice":false,"zero":false,"reverse":true},"axis":null},"text":{"field":"t"}},
"layer":[
{"transform":[{"filter":"datum.k=='letter'"}],"mark":{"type":"text","font":"Liberation Sans","fontWeight":"bold","fontSize":30,"align":"left","baseline":"middle"}},
{"transform":[{"filter":"datum.k=='lig'"}],"mark":{"type":"text","font":"Liberation Sans","fontStyle":"italic","fontSize":24,"align":"left","baseline":"alphabetic"}},
{"transform":[{"filter":"datum.k=='sup'"}],"mark":{"type":"text","font":"Liberation Sans","fontSize":17.5,"align":"left","baseline":"alphabetic"}},
{"transform":[{"filter":"datum.k=='main'"}],"mark":{"type":"text","font":"Liberation Sans","fontSize":23,"align":"left","baseline":"alphabetic"}}
]},
{"data":{"name":"arrD"},"layer":[
{"mark":{"type":"rule","strokeWidth":3},"encoding":{"x":{"field":"tx","type":"quantitative","scale":{"domain":[0,10],"nice":false,"zero":false},"axis":null},"y":{"field":"ty","type":"quantitative","scale":{"domain":[0,10],"nice":false,"zero":false,"reverse":true},"axis":null},"x2":{"field":"hx"},"y2":{"field":"hy"},"stroke":{"field":"c","type":"nominal","scale":{"domain":["g","b"],"range":["#22c922","#1f9bd7"]},"legend":null}}},
{"mark":{"type":"point","shape":"triangle-up","filled":true,"size":180,"angle":321,"opacity":1},"encoding":{"x":{"field":"hx","type":"quantitative","scale":{"domain":[0,10],"nice":false,"zero":false},"axis":null},"y":{"field":"hy","type":"quantitative","scale":{"domain":[0,10],"nice":false,"zero":false,"reverse":true},"axis":null},"fill":{"field":"c","type":"nominal","scale":{"domain":["g","b"],"range":["#22c922","#1f9bd7"]},"legend":null}}}
]}
]
},
{
"width":220,"height":209,
"resolve":{"scale":{"x":"independent","y":"independent"}},
"layer":[
{"data":{"name":"D2"},"mark":{"type":"rect"},"encoding":{"x":{"field":"c","type":"ordinal","scale":{"domain":["40","37","31","22","20","11","10","9","5","3"],"paddingInner":0,"paddingOuter":0},"axis":{"title":"Breaks per cluster","labelAngle":270,"labelFontSize":13,"tickSize":3.5,"domain":false,"titleFontSize":22,"titlePadding":15,"labelPadding":2}},"y":{"field":"r","type":"ordinal","scale":{"domain":["40","37","31","22","20","11","10","9","5","3"],"paddingInner":0,"paddingOuter":0},"axis":{"title":null,"labelFontSize":13,"tickSize":3.5,"domain":false,"labelPadding":2}},"color":{"field":"v","type":"quantitative","scale":{"scheme":"magma","reverse":true,"domain":[-0.05,15.3]},"legend":{"orient":"none","legendX":227,"legendY":10,"direction":"vertical","gradientLength":162,"gradientThickness":7,"title":null,"values":[0,2,4,6,8,10,12,14],"labelFontSize":18,"labelOffset":6,"labelOverlap":false,"gradientStrokeColor":"#444","gradientStrokeWidth":0.8,"padding":0}}}},
{"data":{"values":[{"k":"lig","x":-0.36,"y":-1.24,"t":"LIG3"},{"k":"sup","x":2.05,"y":-1.72,"t":"-/-:NC3"},{"k":"main","x":4.68,"y":-1.24,"t":"; 53 Randomized"},{"k":"cbar","x":12.5,"y":5.12,"t":"Breakpoint adjacency"}]},
"encoding":{"x":{"field":"x","type":"quantitative","scale":{"domain":[0,10],"nice":false,"zero":false},"axis":null},"y":{"field":"y","type":"quantitative","scale":{"domain":[0,10],"nice":false,"zero":false,"reverse":true},"axis":null},"text":{"field":"t"}},
"layer":[
{"transform":[{"filter":"datum.k=='lig'"}],"mark":{"type":"text","font":"Liberation Sans","fontStyle":"italic","fontSize":24,"align":"left","baseline":"alphabetic"}},
{"transform":[{"filter":"datum.k=='sup'"}],"mark":{"type":"text","font":"Liberation Sans","fontSize":17.5,"align":"left","baseline":"alphabetic"}},
{"transform":[{"filter":"datum.k=='main'"}],"mark":{"type":"text","font":"Liberation Sans","fontSize":23,"align":"left","baseline":"alphabetic"}},
{"transform":[{"filter":"datum.k=='cbar'"}],"mark":{"type":"text","font":"DejaVu Sans","fontSize":19,"align":"center","baseline":"middle","angle":270}}
]}
]
}
],
"spacing":25,"bounds":"flush",
"resolve":{"scale":{"color":"independent","size":"independent","strokeWidth":"independent","fill":"independent","stroke":"independent"},"legend":{"color":"independent","size":"independent","strokeWidth":"independent","fill":"independent","stroke":"independent"}}
},
{
"hconcat":[
{
"width":215,"height":213,
"resolve":{"scale":{"x":"independent","y":"independent"}},
"layer":[
{"data":{"name":"E1"},"mark":{"type":"rect"},"encoding":{"x":{"field":"c","type":"ordinal","scale":{"domain":["40","37","31","22","20","11","10","9","5","3"],"paddingInner":0,"paddingOuter":0},"axis":{"title":"Breaks per cluster","labelAngle":270,"labelFontSize":13,"tickSize":3.5,"domain":false,"titleFontSize":22,"titlePadding":11,"labelPadding":2}},"y":{"field":"r","type":"ordinal","scale":{"domain":["40","37","31","22","20","11","10","9","5","3"],"paddingInner":0,"paddingOuter":0},"axis":{"title":"Breaks per cluster","labelFontSize":13,"tickSize":3.5,"domain":false,"titleFontSize":22,"titlePadding":6,"labelPadding":2}},"color":{"field":"v","type":"quantitative","scale":{"type":"log","domain":[0.00098,0.001654,0.002736,0.004525,0.007484,0.01238,0.02047,0.03386,0.056],"range":["#084081","#0868ac","#2b8cbe","#4eb3d3","#7bccc4","#a8ddb5","#ccebc5","#e0f3db","#f7fcf0"],"clamp":true},"legend":null}}},
{"data":{"values":[{"k":"letter","x":-2.14,"y":-2.3,"t":"E"},{"k":"lig","x":-0.14,"y":-1.13,"t":"LIG3"},{"k":"sup","x":2.33,"y":-1.6,"t":"-/-:NC3"},{"k":"main","x":4.98,"y":-1.13,"t":"; 53"}]},
"encoding":{"x":{"field":"x","type":"quantitative","scale":{"domain":[0,10],"nice":false,"zero":false},"axis":null},"y":{"field":"y","type":"quantitative","scale":{"domain":[0,10],"nice":false,"zero":false,"reverse":true},"axis":null},"text":{"field":"t"}},
"layer":[
{"transform":[{"filter":"datum.k=='letter'"}],"mark":{"type":"text","font":"Liberation Sans","fontWeight":"bold","fontSize":30,"align":"left","baseline":"middle"}},
{"transform":[{"filter":"datum.k=='lig'"}],"mark":{"type":"text","font":"Liberation Sans","fontStyle":"italic","fontSize":24,"align":"left","baseline":"alphabetic"}},
{"transform":[{"filter":"datum.k=='sup'"}],"mark":{"type":"text","font":"Liberation Sans","fontSize":17.5,"align":"left","baseline":"alphabetic"}},
{"transform":[{"filter":"datum.k=='main'"}],"mark":{"type":"text","font":"Liberation Sans","fontSize":23,"align":"left","baseline":"alphabetic"}}
]},
{"data":{"name":"arrE"},"layer":[
{"mark":{"type":"rule","strokeWidth":3},"encoding":{"x":{"field":"tx","type":"quantitative","scale":{"domain":[0,10],"nice":false,"zero":false},"axis":null},"y":{"field":"ty","type":"quantitative","scale":{"domain":[0,10],"nice":false,"zero":false,"reverse":true},"axis":null},"x2":{"field":"hx"},"y2":{"field":"hy"},"stroke":{"field":"c","type":"nominal","scale":{"domain":["g","b"],"range":["#22c922","#1f9bd7"]},"legend":null}}},
{"mark":{"type":"point","shape":"triangle-up","filled":true,"size":180,"angle":321,"opacity":1},"encoding":{"x":{"field":"hx","type":"quantitative","scale":{"domain":[0,10],"nice":false,"zero":false},"axis":null},"y":{"field":"hy","type":"quantitative","scale":{"domain":[0,10],"nice":false,"zero":false,"reverse":true},"axis":null},"fill":{"field":"c","type":"nominal","scale":{"domain":["g","b"],"range":["#22c922","#1f9bd7"]},"legend":null}}}
]}
]
},
{
"width":211,"height":210,
"resolve":{"scale":{"x":"independent","y":"independent"}},
"layer":[
{"data":{"name":"E2"},"mark":{"type":"rect"},"encoding":{"x":{"field":"c","type":"ordinal","scale":{"domain":["40","37","31","22","20","11","10","9","5","3"],"paddingInner":0,"paddingOuter":0},"axis":{"title":"Breaks per cluster","labelAngle":270,"labelFontSize":13,"tickSize":3.5,"domain":false,"titleFontSize":22,"titlePadding":11,"labelPadding":2}},"y":{"field":"r","type":"ordinal","scale":{"domain":["40","37","31","22","20","11","10","9","5","3"],"paddingInner":0,"paddingOuter":0},"axis":{"title":null,"labelFontSize":13,"tickSize":3.5,"domain":false,"labelPadding":2}},"color":{"field":"v","type":"quantitative","scale":{"type":"log","domain":[0.00098,0.001654,0.002736,0.004525,0.007484,0.01238,0.02047,0.03386,0.056],"range":["#084081","#0868ac","#2b8cbe","#4eb3d3","#7bccc4","#a8ddb5","#ccebc5","#e0f3db","#f7fcf0"],"clamp":true},"legend":{"orient":"none","legendX":217,"legendY":4,"direction":"vertical","gradientLength":169,"gradientThickness":13,"title":null,"values":[0.001,0.01],"labelExpr":"datum.value < 0.005 ? '10⁻³' : '10⁻²'","labelFontSize":20,"labelOffset":5,"labelOverlap":false,"gradientStrokeColor":"#444","gradientStrokeWidth":0.8,"padding":0}}}},
{"data":{"values":[{"k":"lig","x":-0.47,"y":-1.19,"t":"LIG3"},{"k":"sup","x":2.04,"y":-1.67,"t":"-/-:NC3"},{"k":"main","x":4.79,"y":-1.19,"t":"; 53 Randomized"},{"k":"cbar","x":14.03,"y":4.57,"t":"Probability"}]},
"encoding":{"x":{"field":"x","type":"quantitative","scale":{"domain":[0,10],"nice":false,"zero":false},"axis":null},"y":{"field":"y","type":"quantitative","scale":{"domain":[0,10],"nice":false,"zero":false,"reverse":true},"axis":null},"text":{"field":"t"}},
"layer":[
{"transform":[{"filter":"datum.k=='lig'"}],"mark":{"type":"text","font":"Liberation Sans","fontStyle":"italic","fontSize":24,"align":"left","baseline":"alphabetic"}},
{"transform":[{"filter":"datum.k=='sup'"}],"mark":{"type":"text","font":"Liberation Sans","fontSize":17.5,"align":"left","baseline":"alphabetic"}},
{"transform":[{"filter":"datum.k=='main'"}],"mark":{"type":"text","font":"Liberation Sans","fontSize":23,"align":"left","baseline":"alphabetic"}},
{"transform":[{"filter":"datum.k=='cbar'"}],"mark":{"type":"text","font":"DejaVu Sans","fontSize":23,"align":"center","baseline":"middle","angle":270}}
]}
]
}
],
"spacing":36,"bounds":"flush",
"resolve":{"scale":{"color":"independent","size":"independent","strokeWidth":"independent","fill":"independent","stroke":"independent"},"legend":{"color":"independent","size":"independent","strokeWidth":"independent","fill":"independent","stroke":"independent"}}
}
],
"spacing":67,
"resolve":{"scale":{"color":"independent","size":"independent","strokeWidth":"independent","fill":"independent","stroke":"independent"},"legend":{"color":"independent","size":"independent","strokeWidth":"independent","fill":"independent","stroke":"independent"}}
}
]
}
